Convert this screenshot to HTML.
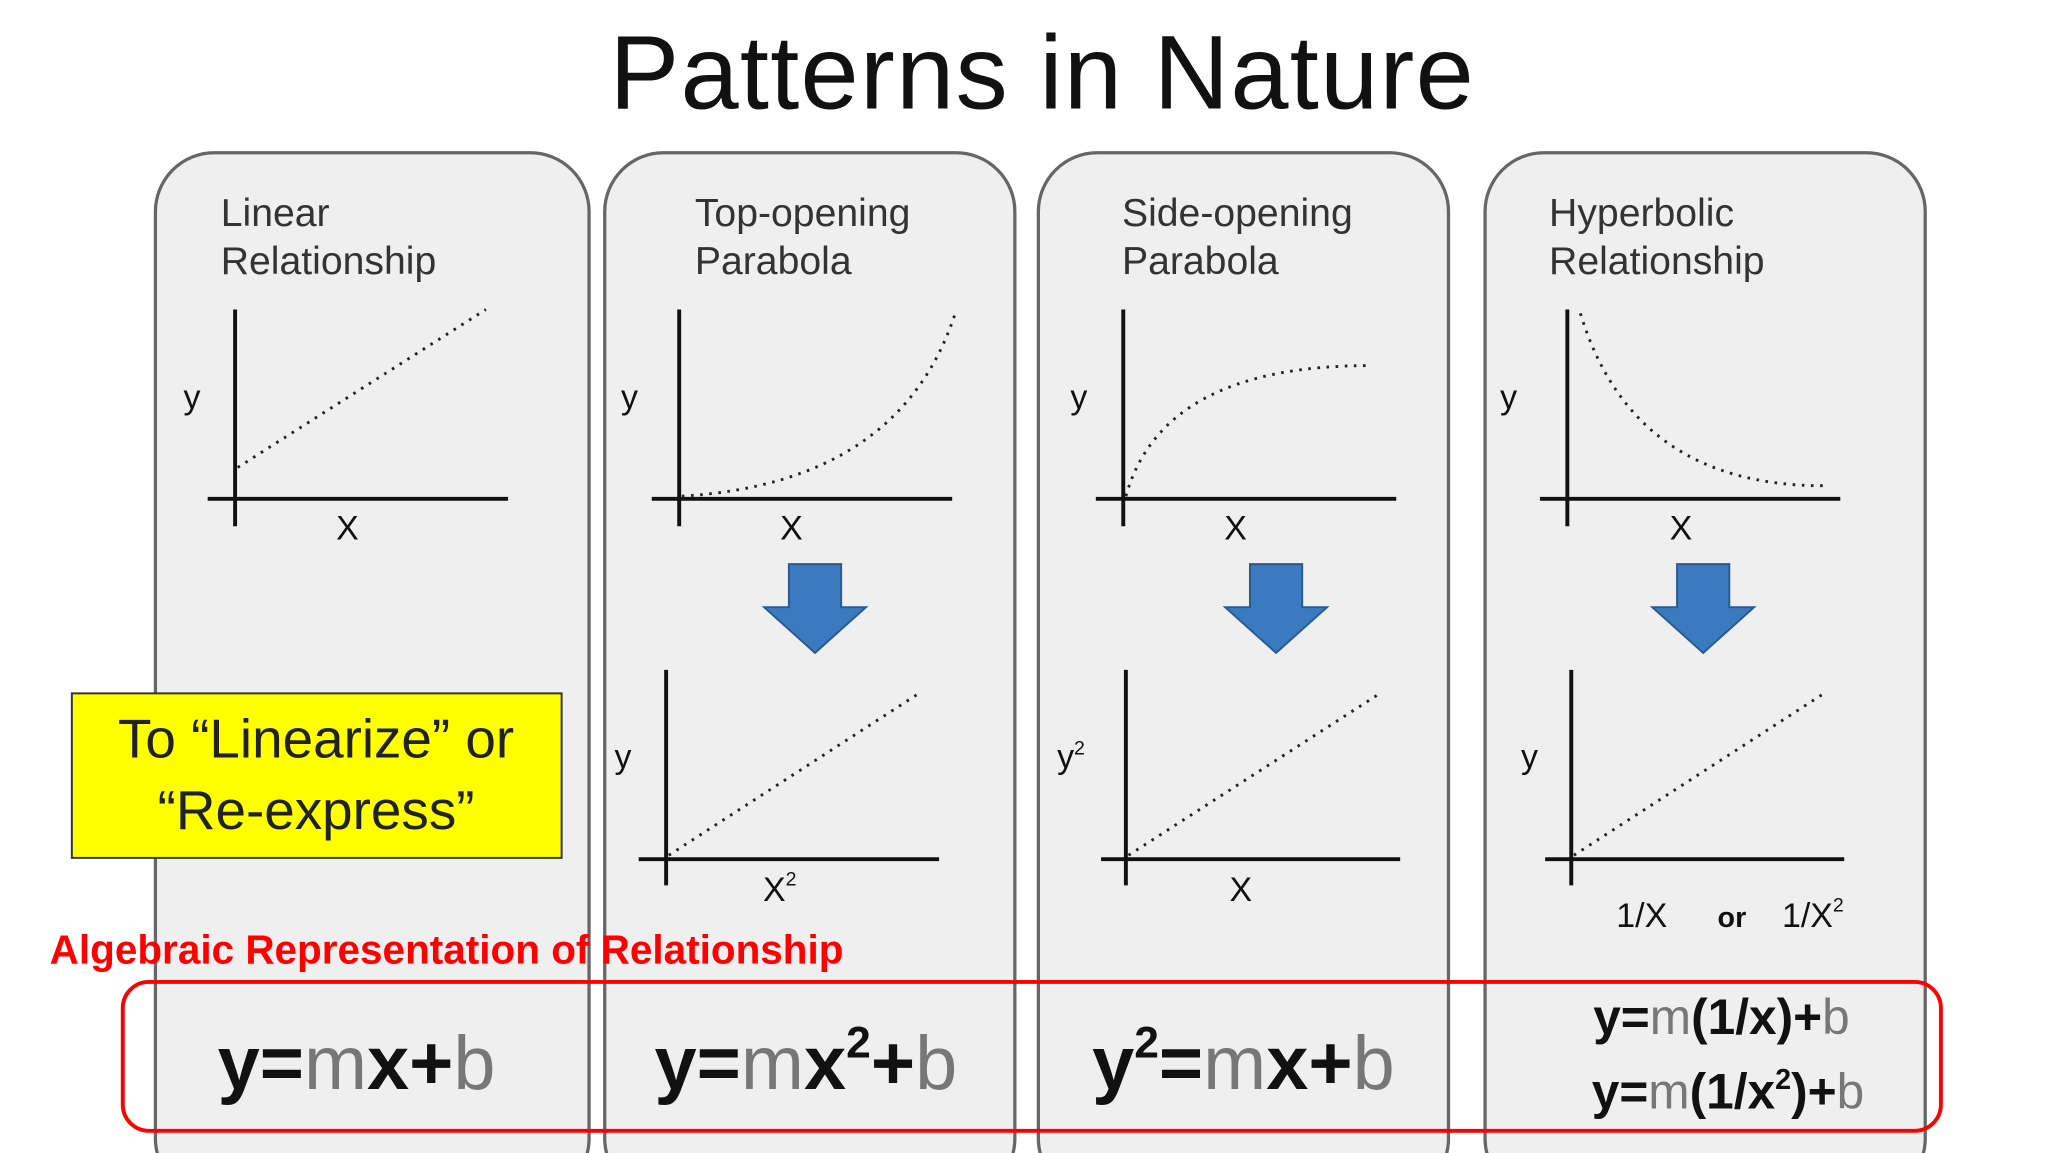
<!DOCTYPE html>
<html><head><meta charset="utf-8"><style>html,body{margin:0;padding:0;background:#fff;width:2048px;height:1153px;overflow:hidden}svg{display:block}</style></head>
<body>
<svg width="2048" height="1153" viewBox="0 0 1568 883" preserveAspectRatio="none" xmlns="http://www.w3.org/2000/svg" font-family="Liberation Sans, sans-serif">
<rect width="1568" height="883" fill="#fff"/>
<text x="798" y="83" font-size="80" text-anchor="middle" fill="#111" font-weight="normal" letter-spacing="1">Patterns in Nature</text>
<g fill="#efefef" stroke="#666" stroke-width="2.5">
<rect x="119" y="117" width="332" height="800" rx="45"/>
<rect x="463" y="117" width="314" height="800" rx="45"/>
<rect x="795" y="117" width="314" height="800" rx="45"/>
<rect x="1137" y="117" width="337" height="800" rx="45"/>
</g>
<g font-size="30" fill="#333">
<text x="169" y="173">Linear</text><text x="169" y="210">Relationship</text>
<text x="532" y="173">Top-opening</text><text x="532" y="210">Parabola</text>
<text x="859" y="173">Side-opening</text><text x="859" y="210">Parabola</text>
<text x="1186" y="173">Hyperbolic</text><text x="1186" y="210">Relationship</text>
</g>
<g stroke="#111" stroke-width="3">
<line x1="180" y1="237" x2="180" y2="403"/><line x1="159" y1="382" x2="389" y2="382"/>
<line x1="520" y1="237" x2="520" y2="403"/><line x1="499" y1="382" x2="729" y2="382"/>
<line x1="860" y1="237" x2="860" y2="403"/><line x1="839" y1="382" x2="1069" y2="382"/>
<line x1="1200" y1="237" x2="1200" y2="403"/><line x1="1179" y1="382" x2="1409" y2="382"/>
<line x1="510" y1="513" x2="510" y2="678"/><line x1="489" y1="658" x2="719" y2="658"/>
<line x1="862" y1="513" x2="862" y2="678"/><line x1="843" y1="658" x2="1072" y2="658"/>
<line x1="1203" y1="513" x2="1203" y2="678"/><line x1="1183" y1="658" x2="1412" y2="658"/>
</g>
<g stroke="#222" stroke-width="2.2" fill="none" stroke-dasharray="2 5">
<line x1="182" y1="358" x2="372" y2="237"/>
<path d="M522 380 Q690 370 732 238"/>
<path d="M862 380 Q890 280 1048 280"/>
<path d="M1210 240 Q1250 372 1396 372"/>
<line x1="512" y1="655" x2="702" y2="532"/>
<line x1="864" y1="655" x2="1055" y2="532"/>
<line x1="1205" y1="655" x2="1395" y2="532"/>
</g>
<g font-size="26" fill="#111">
<text x="147" y="313" text-anchor="middle">y</text><text x="266" y="413" text-anchor="middle">X</text>
<text x="482" y="313" text-anchor="middle">y</text><text x="606" y="413" text-anchor="middle">X</text>
<text x="826" y="313" text-anchor="middle">y</text><text x="946" y="413" text-anchor="middle">X</text>
<text x="1155" y="313" text-anchor="middle">y</text><text x="1287" y="413" text-anchor="middle">X</text>
<text x="477" y="588" text-anchor="middle">y</text><text x="597" y="690" text-anchor="middle">X<tspan font-size="15" dy="-12">2</tspan></text>
<text x="820" y="588" text-anchor="middle">y<tspan font-size="15" dy="-10">2</tspan></text><text x="950" y="690" text-anchor="middle">X</text>
<text x="1171" y="588" text-anchor="middle">y</text>
<text x="1257" y="710" text-anchor="middle">1/X</text>
<text x="1326" y="710" text-anchor="middle" font-weight="bold" font-size="22">or</text>
<text x="1388" y="710" text-anchor="middle">1/X<tspan font-size="15" dy="-12">2</tspan></text>
</g>
<g fill="#3a7bbf" stroke="#2a5a90" stroke-width="1.5">
<path d="M604 432 H644 V465 H663 L624 500 L585 465 H604 Z"/>
<path d="M957 432 H997 V465 H1016 L977 500 L938 465 H957 Z"/>
<path d="M1284 432 H1324 V465 H1343 L1304 500 L1265 465 H1284 Z"/>
</g>
<rect x="55" y="531" width="375" height="126" fill="#ffff00" stroke="#333" stroke-width="1.5"/>
<text x="242" y="580" font-size="42" text-anchor="middle" fill="#222">To “Linearize” or</text>
<text x="242" y="635" font-size="42" text-anchor="middle" fill="#222">“Re-express”</text>
<text x="38" y="738" font-size="31" font-weight="bold" fill="#f00">Algebraic Representation of Relationship</text>
<rect x="94" y="752" width="1392" height="114" rx="20" fill="none" stroke="#f00" stroke-width="3"/>
<g font-size="58" font-weight="bold" fill="#111" text-anchor="middle">
<text x="273" y="834">y=<tspan fill="#777" font-weight="normal">m</tspan>x+<tspan fill="#777" font-weight="normal">b</tspan></text>
<text x="617" y="834">y=<tspan fill="#777" font-weight="normal">m</tspan>x<tspan font-size="34" dy="-24">2</tspan><tspan dy="24">+</tspan><tspan fill="#777" font-weight="normal">b</tspan></text>
<text x="952" y="834">y<tspan font-size="34" dy="-24">2</tspan><tspan dy="24">=</tspan><tspan fill="#777" font-weight="normal">m</tspan>x+<tspan fill="#777" font-weight="normal">b</tspan></text>
</g>
<g font-size="38" font-weight="bold" fill="#111" text-anchor="middle">
<text x="1318" y="792">y=<tspan fill="#777" font-weight="normal">m</tspan>(1/x)+<tspan fill="#777" font-weight="normal">b</tspan></text>
<text x="1323" y="849">y=<tspan fill="#777" font-weight="normal">m</tspan>(1/x<tspan font-size="22" dy="-15">2</tspan><tspan dy="15">)+</tspan><tspan fill="#777" font-weight="normal">b</tspan></text>
</g>
</svg>
</body></html>
